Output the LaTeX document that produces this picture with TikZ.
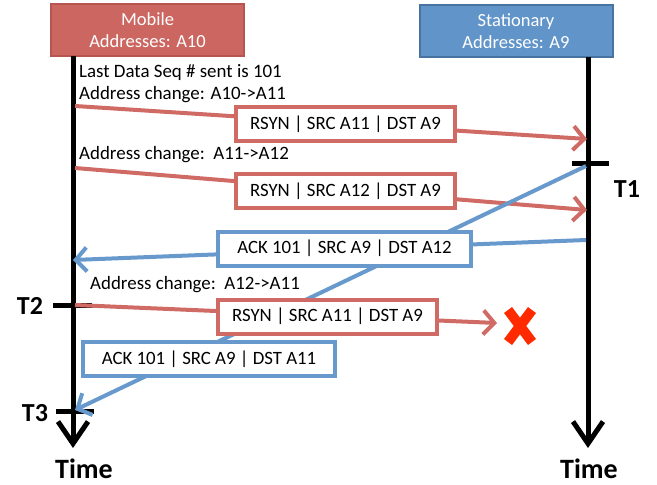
\documentclass[tikz,border=0pt]{standalone}
\usepackage{fontspec}
\setmainfont{Carlito}
\usetikzlibrary{arrows.meta}
\definecolor{redfill}{RGB}{204,102,97}
\definecolor{redborder}{RGB}{185,85,80}
\definecolor{redline}{RGB}{207,106,100}
\definecolor{bluefill}{RGB}{97,148,200}
\definecolor{blueborder}{RGB}{70,115,160}
\definecolor{blueline}{RGB}{104,153,204}
\definecolor{xred}{RGB}{255,42,0}
\tikzset{
  hdr/.style={draw, line width=2pt, text=white, align=center, inner sep=0pt,
    minimum width=193pt, minimum height=52pt, font=\fontsize{18.5}{22}\selectfont},
  msgbox/.style={draw, fill=white, line width=4pt, inner sep=0pt,
    minimum height=34pt, font=\fontsize{18.8}{20}\selectfont},
  redmsg/.style={msgbox, draw=redline},
  bluemsg/.style={msgbox, draw=blueline},
  life/.style={line width=5pt, -{Straight Barb[length=22pt,width=30pt,line width=5pt]}},
  tick/.style={line width=5pt},
  redarrow/.style={draw=redline, line width=4pt, -{Straight Barb[length=11pt,width=24pt,line width=4pt]}},
  bluearrow/.style={draw=blueline, line width=4pt, -{Straight Barb[length=11pt,width=24pt,line width=4pt]}},
  note/.style={anchor=west, inner sep=0pt, font=\fontsize{18.9}{20}\selectfont},
  tlabel/.style={inner sep=0pt, font=\fontsize{26}{28}\selectfont\bfseries},
  timelabel/.style={inner sep=0pt, font=\fontsize{28}{30}\selectfont\bfseries},
}
\begin{document}
\begin{tikzpicture}[x=1pt,y=-1pt]
\useasboundingbox (0,0) rectangle (657,485);
% headers
\node[hdr, fill=redfill, draw=redborder] (mob) at (147.5,30) {Mobile\\Addresses: A10};
\node[hdr, fill=bluefill, draw=blueborder] (sta) at (516,31) {Stationary\\Addresses: A9};
% lifelines
\coordinate (ltop) at (73,56);
\coordinate (lbot) at (73,448);
\coordinate (rtop) at (588,57);
\coordinate (rbot) at (588,448);
\draw[life] (ltop) -- (lbot);
\draw[life] (rtop) -- (rbot);
% ticks
\coordinate (t1a) at (572,163); \coordinate (t1b) at (609,163);
\coordinate (t2a) at (53,305); \coordinate (t2b) at (92,305);
\coordinate (t3a) at (56,411); \coordinate (t3b) at (94,411);
\draw[tick] (t1a) -- (t1b);
\draw[tick] (t2a) -- (t2b);
\draw[tick] (t3a) -- (t3b);
\node[tlabel] (T1) at (627,189) {T1};
\node[tlabel] (T2) at (30,306) {T2};
\node[tlabel] (T3) at (35,413) {T3};
% notes
\node[note] (n1) at (79,73) {Last Data Seq \# sent is 101};
\node[note] (n2) at (79,95) {Address change: A10->A11};
\node[note] (n3) at (79,155) {Address change:\ \ A11->A12};
\node[note] (n4) at (90,285) {Address change:\ \ A12->A11};
% arrow endpoints
\coordinate (a1s) at (75,106); \coordinate (a1e) at (587,139);
\coordinate (a2s) at (75,168); \coordinate (a2e) at (587,210);
\coordinate (b1s) at (586,240); \coordinate (b1e) at (73,260);
\coordinate (b2s) at (586,166); \coordinate (b2e) at (75,410);
\coordinate (a3s) at (75,305); \coordinate (a3e) at (497,323);
% connectors
\draw[redarrow] (a1s) -- (a1e);
\draw[redarrow] (a2s) -- (a2e);
\draw[bluearrow] (b1s) -- (b1e);
\draw[bluearrow] (b2s) -- (b2e);
\draw[redarrow] (a3s) -- (a3e);
% message boxes
\node[redmsg, minimum width=219pt] (m1) at (345.5,124) {RSYN | SRC A11 | DST A9};
\node[redmsg, minimum width=219pt] (m2) at (345.5,191) {RSYN | SRC A12 | DST A9};
\node[bluemsg, minimum width=253pt] (m3) at (344.5,248.5) {ACK 101 | SRC A9 | DST A12};
\node[redmsg, minimum width=219pt] (m4) at (327.5,316.5) {RSYN | SRC A11 | DST A9};
\node[bluemsg, minimum width=252pt] (m5) at (209,359) {ACK 101 | SRC A9 | DST A11};
% lost mark
\coordinate (xc) at (520,326);
\draw[xred, line width=10pt] ([shift={(-12,-16)}]xc) -- ([shift={(12,16)}]xc);
\draw[xred, line width=10pt] ([shift={(12,-16)}]xc) -- ([shift={(-12,16)}]xc);
% time labels
\node[timelabel] (time1) at (84,469) {Time};
\node[timelabel] (time2) at (589,469) {Time};
\end{tikzpicture}
\end{document}
